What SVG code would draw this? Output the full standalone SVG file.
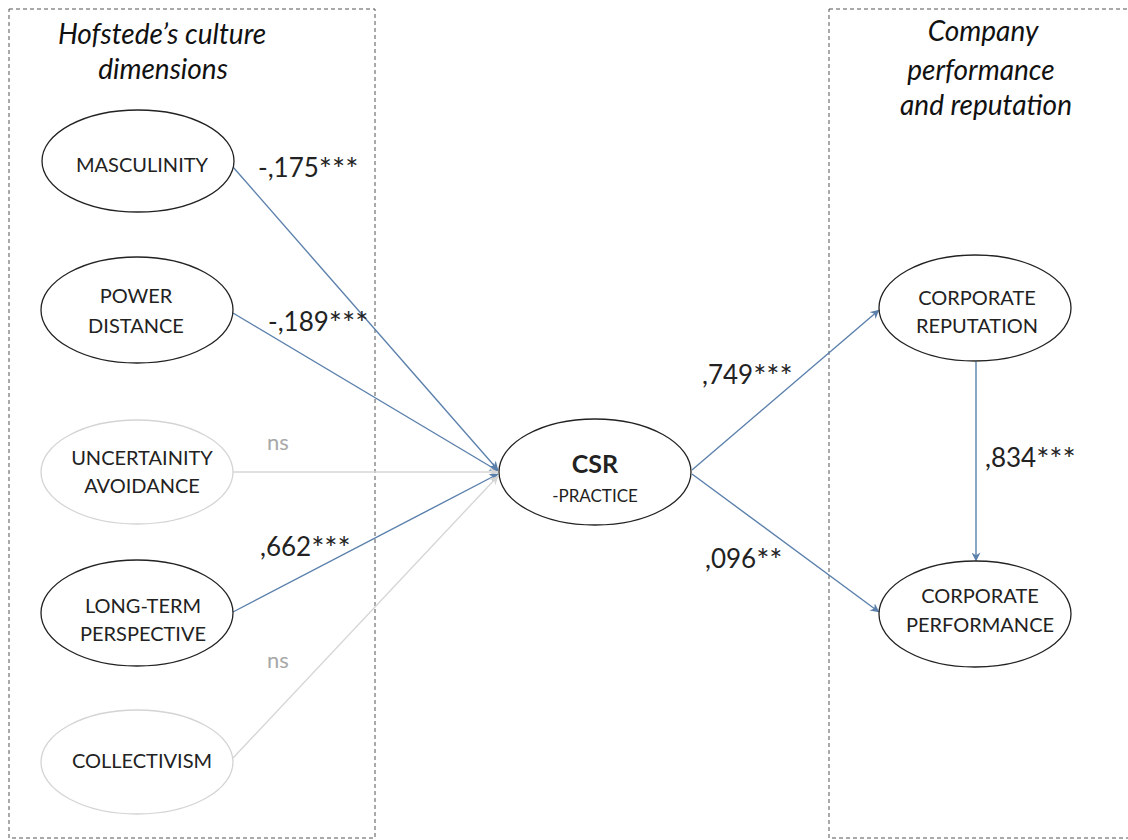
<svg xmlns="http://www.w3.org/2000/svg" width="1128" height="840" viewBox="0 0 1128 840">
<style>
  .box{fill:none;stroke:#555;stroke-width:1;stroke-dasharray:4 3}
  .hdr{font-family:Lato,"Open Sans","Liberation Sans",sans-serif;font-style:italic;font-size:28px;fill:#111;text-anchor:middle}
  .node{fill:#fff;stroke:#222;stroke-width:1.3}
  .node-dim{fill:#fff;stroke:#d4d4d4;stroke-width:1.3}
  .lbl{font-family:Lato,"Open Sans","Liberation Sans",sans-serif;font-size:20px;fill:#222;text-anchor:middle}
  .coef{font-family:Lato,"Open Sans","Liberation Sans",sans-serif;font-size:26px;fill:#222}
  .st{font-size:31px}
  .ns{font-family:Lato,"Open Sans","Liberation Sans",sans-serif;font-size:22px;fill:#a8a8a8}
  .edge{fill:none;stroke:#5b80ac;stroke-width:1.4}
  .edge-dim{fill:none;stroke:#d6d6d6;stroke-width:1.4}
</style>
<defs>
  <marker id="ah" viewBox="0 0 10 10" refX="9.5" refY="5" markerWidth="9" markerHeight="9" markerUnits="userSpaceOnUse" orient="auto">
    <path d="M0,0 L10,5 L0,10 L3,5 Z" fill="#5b80ac"/>
  </marker>
  <marker id="ahd" viewBox="0 0 10 10" refX="9.5" refY="5" markerWidth="9" markerHeight="9" markerUnits="userSpaceOnUse" orient="auto">
    <path d="M0,0 L10,5 L0,10 L3,5 Z" fill="#d6d6d6"/>
  </marker>
</defs>
<rect width="1128" height="840" fill="#fff"/>

<g id="group-hofstede">
  <rect class="box" x="9" y="9" width="366" height="829"/>
  <text class="hdr" x="162" y="44">Hofstede’s culture</text>
  <text class="hdr" x="163" y="79">dimensions</text>
</g>
<g id="group-company">
  <rect class="box" x="829" y="9" width="310" height="829"/>
  <text class="hdr" x="983" y="41">Company</text>
  <text class="hdr" x="981" y="80">performance</text>
  <text class="hdr" x="986" y="115">and reputation</text>
</g>

<g id="connectors">
  <line class="edge" x1="233" y1="167" x2="498" y2="470" marker-end="url(#ah)"/>
  <line class="edge" x1="233" y1="313" x2="498" y2="471" marker-end="url(#ah)"/>
  <line class="edge-dim" x1="233" y1="472" x2="498" y2="472" marker-end="url(#ahd)"/>
  <line class="edge" x1="233" y1="612" x2="498" y2="474" marker-end="url(#ah)"/>
  <line class="edge-dim" x1="233" y1="758" x2="498" y2="476" marker-end="url(#ahd)"/>
  <line class="edge" x1="692" y1="470" x2="879" y2="310" marker-end="url(#ah)"/>
  <line class="edge" x1="692" y1="474" x2="879" y2="612" marker-end="url(#ah)"/>
  <line class="edge" x1="976" y1="362" x2="976" y2="561" marker-end="url(#ah)"/>
  <text class="coef" x="258" y="177">-,175<tspan class="st" dy="3">***</tspan></text>
  <text class="coef" x="268" y="331">-,189<tspan class="st" dy="3">***</tspan></text>
  <text class="ns" x="267" y="450">ns</text>
  <text class="coef" x="260" y="556">,662<tspan class="st" dy="3">***</tspan></text>
  <text class="ns" x="267" y="668">ns</text>
  <text class="coef" x="702" y="384">,749<tspan class="st" dy="3">***</tspan></text>
  <text class="coef" x="705" y="568">,096<tspan class="st" dy="3">**</tspan></text>
  <text class="coef" x="985" y="467">,834<tspan class="st" dy="3">***</tspan></text>
</g>

<g id="node-masculinity">
  <ellipse class="node" cx="138" cy="161" rx="96" ry="51"/>
  <text class="lbl" x="142" y="172">MASCULINITY</text>
</g>
<g id="node-power-distance">
  <ellipse class="node" cx="137" cy="310" rx="96" ry="53"/>
  <text class="lbl" x="136" y="303">POWER</text>
  <text class="lbl" x="136" y="333">DISTANCE</text>
</g>
<g id="node-uncertainty">
  <ellipse class="node-dim" cx="137" cy="472" rx="96" ry="52"/>
  <text class="lbl" x="142" y="465">UNCERTAINITY</text>
  <text class="lbl" x="142" y="493">AVOIDANCE</text>
</g>
<g id="node-long-term">
  <ellipse class="node" cx="137" cy="613" rx="96" ry="53"/>
  <text class="lbl" x="143" y="613">LONG-TERM</text>
  <text class="lbl" x="143" y="641">PERSPECTIVE</text>
</g>
<g id="node-collectivism">
  <ellipse class="node-dim" cx="137" cy="762" rx="96" ry="52"/>
  <text class="lbl" x="142" y="768">COLLECTIVISM</text>
</g>
<g id="node-csr">
  <ellipse class="node" cx="595" cy="472" rx="96" ry="53"/>
  <text class="lbl" x="595" y="473" style="font-weight:bold;font-size:25px">CSR</text>
  <text class="lbl" x="595" y="502" style="font-size:17px">-PRACTICE</text>
</g>
<g id="node-reputation">
  <ellipse class="node" cx="975" cy="308" rx="96" ry="53"/>
  <text class="lbl" x="977" y="305">CORPORATE</text>
  <text class="lbl" x="977" y="333">REPUTATION</text>
</g>
<g id="node-performance">
  <ellipse class="node" cx="975" cy="614" rx="96" ry="53"/>
  <text class="lbl" x="980" y="603">CORPORATE</text>
  <text class="lbl" x="980" y="632">PERFORMANCE</text>
</g>
</svg>
